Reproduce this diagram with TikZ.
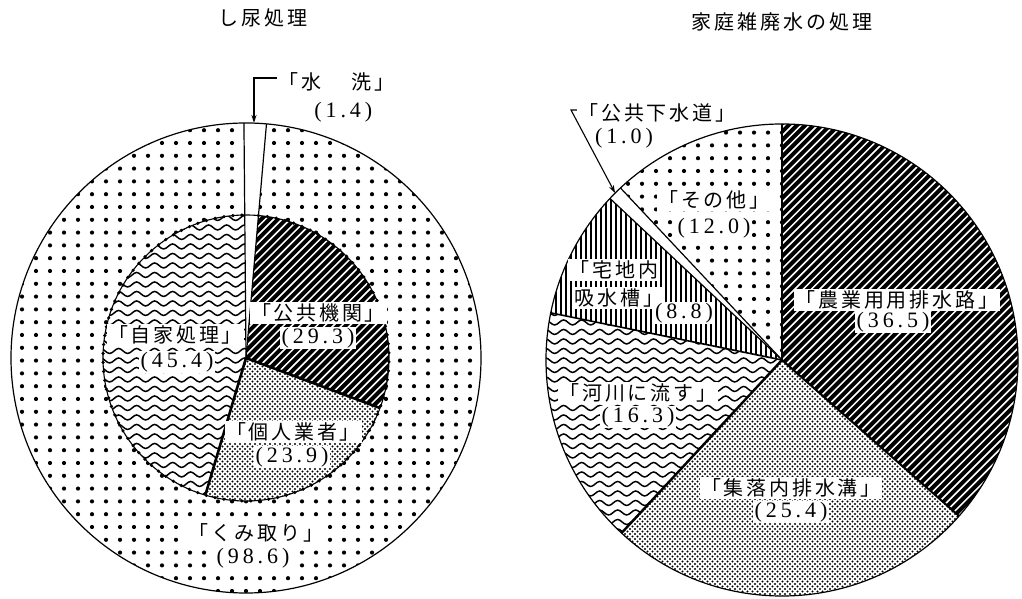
\documentclass[tikz,border=0pt]{standalone}
\usepackage{fontspec}
\newfontfamily\cjk[LetterSpace=14]{Noto Sans CJK JP}
\newfontfamily\cjkt[LetterSpace=15]{Noto Sans CJK JP}
\newfontfamily\numf[LetterSpace=18]{Liberation Serif}
\usetikzlibrary{decorations.pathmorphing,arrows.meta}
\newcommand{\sectorp}[4]{(#1) -- ([shift={(#3:#2)}]#1) arc[start angle=#3, end angle=#4, radius=#2] -- cycle}
\newcommand{\ringp}[5]{([shift={(#4:#3)}]#1) arc[start angle=#4, end angle=#5, radius=#3] -- ([shift={(#5:#2)}]#1) arc[start angle=#5, end angle=#4, radius=#2] -- cycle}
\tikzset{
  bigdot/.style={line width=4.2pt, line cap=round, dash pattern=on 0pt off 14pt},
  finedot/.style={line width=2.1pt, line cap=round, dash pattern=on 0pt off 5pt},
  wave/.style={line width=1.5pt, decorate, decoration={snake, segment length=18pt, amplitude=2.5pt}},
  diag/.style={line width=4pt},
  vstripe/.style={line width=2pt},
  lab/.style={fill=white, inner sep=1.5pt, font=\cjk\fontsize{20}{20}\selectfont},
  num/.style={fill=white, inner sep=1.5pt, font=\numf\fontsize{22}{22}\selectfont},
  ttl/.style={inner sep=1pt, font=\cjkt\fontsize{20}{20}\selectfont},
  lead/.style={line width=1.1pt, -{Stealth[length=8pt,width=5pt]}},
  thick boundary/.style={line width=2.6pt},
  thin boundary/.style={line width=1.2pt}
}
\begin{document}
\begin{tikzpicture}[x=1pt,y=1pt]
\useasboundingbox (0,0) rectangle (1022,599);
\coordinate (L) at (246,241);
\coordinate (C) at (782,239);
% ---------------- left pie ----------------
\begin{scope}
  \clip \ringp{L}{143}{235}{85}{-269.5};
  \foreach \yy in {8,20.8,...,480} \draw[bigdot] (8,\yy) -- (490,\yy);
\end{scope}
\begin{scope}
  \clip \sectorp{L}{143}{85}{-20.48};
  \foreach \t in {-70,-61.7,...,400} \draw[diag] (\t,90) -- ++(300,300);
\end{scope}
\begin{scope}
  \clip \sectorp{L}{143}{-20.48}{-106.52};
  \foreach \yy in {95,100,...,250} \draw[finedot] (195,\yy) -- (395,\yy);
  \foreach \yy in {97.5,102.5,...,250} \draw[finedot, dash phase=2.5pt] (195,\yy) -- (395,\yy);
\end{scope}
\begin{scope}
  \clip \sectorp{L}{143}{-106.52}{-269.5};
  \foreach \yy in {96,105.5,...,392} \draw[wave] (95,\yy) -- (260,\yy);
\end{scope}
\draw[thin boundary] (L) circle (235);
\draw[line width=1.1pt] (L) circle (143);
\draw[line width=3.6pt, line cap=round, dash pattern=on 0pt off 9pt] ([shift={(85:143)}]L) arc[start angle=85, end angle=-269.5, radius=143];
\draw[thick boundary] (L) -- ([shift={(-20.48:143)}]L);
\draw[thick boundary] (L) -- ([shift={(-106.52:143)}]L);
\draw[thin boundary] (L) -- ([shift={(90.5:235)}]L);
\draw[thin boundary] (L) -- ([shift={(85:235)}]L);
% ---------------- right pie ----------------
\begin{scope}
  \clip \sectorp{C}{236}{90}{-41.4};
  \foreach \t in {290,298.3,...,1030} \draw[diag] (\t,0) -- ++(480,480);
\end{scope}
\begin{scope}
  \clip \sectorp{C}{236}{-41.4}{-132.84};
  \foreach \yy in {0,5,...,245} \draw[finedot] (615,\yy) -- (970,\yy);
  \foreach \yy in {2.5,7.5,...,245} \draw[finedot, dash phase=2.5pt] (615,\yy) -- (970,\yy);
\end{scope}
\begin{scope}
  \clip \sectorp{C}{236}{-132.84}{-191.52};
  \foreach \yy in {58,67.5,...,300} \draw[wave] (540,\yy) -- (790,\yy);
\end{scope}
\begin{scope}
  \clip \sectorp{C}{236}{168.48}{136.8};
  \foreach \xx in {546,551,...,786} \draw[vstripe] (\xx,230) -- (\xx,420);
\end{scope}
\begin{scope}
  \clip \sectorp{C}{236}{133.2}{90};
  \foreach \yy in {236,248.8,...,480} \draw[bigdot] (600,\yy) -- (790,\yy);
\end{scope}
\draw[thin boundary] (C) circle (236);
\draw[line width=2pt] (C) -- ([shift={(90:236)}]C);
\draw[line width=2pt] (C) -- ([shift={(-41.4:236)}]C);
\draw[line width=2.4pt] (C) -- ([shift={(-132.84:236)}]C);
\draw[line width=1.6pt] (C) -- ([shift={(168.48:236)}]C);
\draw[thin boundary] (C) -- ([shift={(136.8:236)}]C);
\draw[thin boundary] (C) -- ([shift={(133.2:236)}]C);
% ---------------- titles ----------------
\node[ttl] (t1) at (263,581) {し尿処理};
\node[ttl] (t2) at (782,577) {家庭雑廃水の処理};
% ---------------- left labels ----------------
\node[lab, fill=none, anchor=west] (suiA) at (277,517) {「水\hspace{1.5em}洗」};
\node[num, fill=none, anchor=east] (suiB) at (374,487) {(1.4)};
\coordinate (suitip) at (254,476);
\draw[lead] ([yshift=4pt]suiA.west) -| (suitip);
\node[lab] (kokyoA) at (318,286) {「公共機関」};
\node[num] (kokyoB) at (318,261) {(29.3)};
\node[lab] (jikaA) at (175,264) {「自家処理」};
\node[num] (jikaB) at (177,237) {(45.4)};
\node[lab] (kojinA) at (293,167) {「個人業者」};
\node[num] (kojinB) at (292,142) {(23.9)};
\node[lab] (kumiA) at (256,66) {「くみ取り」};
\node[num] (kumiB) at (253,41) {(98.6)};
% ---------------- right labels ----------------
\node[lab, fill=none] (gesuiA) at (657,486) {「公共下水道」};
\node[num, fill=none] (gesuiB) at (624,461) {(1.0)};
\coordinate (gcorner) at (571,489);
\coordinate (gesuitip) at ([shift={(135:236)}]C);
\draw[lead] ([yshift=3pt]gesuiA.west) -- (gcorner) -- (gesuitip);
\node[lab] (sonotaA) at (714,399) {「その他」};
\node[num] (sonotaB) at (714,371) {(12.0)};
\node[lab, anchor=west] (takuA) at (568,329) {「宅地内};
\node[lab, anchor=west] (takuB) at (573,301) {吸水槽」};
\node[num] (takuC) at (684,286) {(8.8)};
\node[lab] (nogyoA) at (897,299) {「農業用用排水路」};
\node[num] (nogyoB) at (893,277) {(36.5)};
\node[lab] (kasenA) at (638,206) {「河川に流す」};
\node[num] (kasenB) at (638,182) {(16.3)};
\node[lab] (shurakuA) at (791,111) {「集落内排水溝」};
\node[num] (shurakuB) at (791,87) {(25.4)};
\end{tikzpicture}
\end{document}
